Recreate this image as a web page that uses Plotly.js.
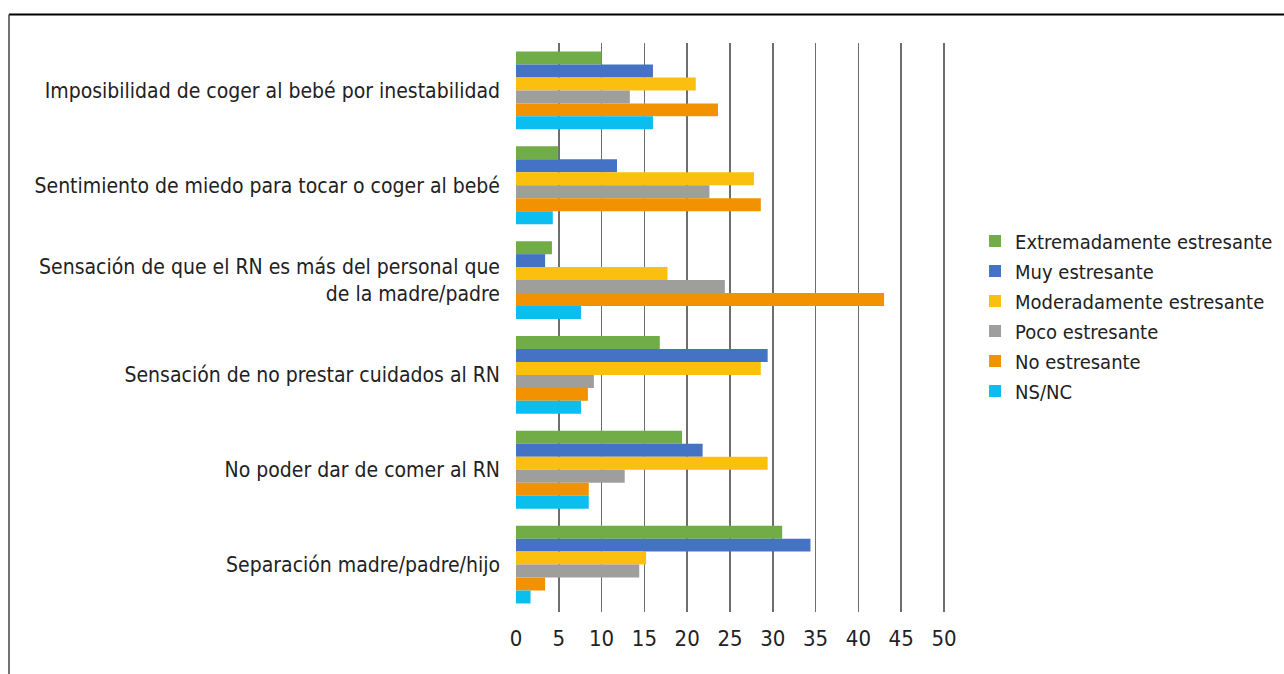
<!DOCTYPE html>
<html>
<head>
<meta charset="utf-8">
<script src="https://cdn.plot.ly/plotly-3.0.1.min.js"></script>
<style>
  html, body { margin: 0; padding: 0; background: #fff; }
  #chart { width: 1284px; height: 674px; }
</style>
</head>
<body>
<div id="chart"></div>
<script>
const categories = [
  "Imposibilidad de coger al bebé por inestabilidad",
  "Sentimiento de miedo para tocar o coger al bebé",
  "Sensación de que el RN es más del personal que<br>de la madre/padre",
  "Sensación de no prestar cuidados al RN",
  "No poder dar de comer al RN",
  "Separación madre/padre/hijo"
];
const seriesNames = [
  "Extremadamente estresante",
  "Muy estresante",
  "Moderadamente estresante",
  "Poco estresante",
  "No estresante",
  "NS/NC"
];
const extremadamente = [10.0, 4.9, 4.2, 16.8, 19.4, 31.1];
const muy            = [16.0, 11.8, 3.4, 29.4, 21.8, 34.4];
const moderadamente  = [21.0, 27.8, 17.7, 28.6, 29.4, 15.2];
const poco           = [13.3, 22.6, 24.4, 9.1, 12.7, 14.4];
const noEstresante   = [23.6, 28.6, 43.0, 8.4, 8.5, 3.4];
const nsnc           = [16.0, 4.3, 7.6, 7.6, 8.5, 1.7];
const xTicks = [0, 5, 10, 15, 20, 25, 30, 35, 40, 45, 50];

const seriesValues = [extremadamente, muy, moderadamente, poco, noEstresante, nsnc];
const colors = ["#70AD47", "#4472C4", "#FBBF0F", "#9E9E9C", "#F29200", "#0CBDF0"];

const FONT = "'DejaVu Sans Condensed', 'Liberation Sans', Arial, sans-serif";

const traces = seriesValues.map((vals, i) => ({
  type: "bar",
  orientation: "h",
  name: seriesNames[i],
  y: categories,
  x: vals,
  legendgroup: "g" + i,
  marker: { color: colors[i], line: { width: 0 } },
  hoverinfo: "x+name"
}));

const layout = {
  width: 1284,
  height: 674,
  margin: { l: 516, r: 339, t: 43, b: 62, autoexpand: false },
  paper_bgcolor: "#ffffff",
  plot_bgcolor: "#ffffff",
  font: { family: FONT, size: 21, color: "#222222" },
  barmode: "group",
  bargap: 0.18,
  bargroupgap: 0,
  showlegend: true,
  legend: {
    x: 1.07, xanchor: "left",
    y: 0.52, yanchor: "middle",
    traceorder: "grouped",
    tracegroupgap: 1,
    font: { family: FONT, size: 20, color: "#222222" },
    itemwidth: 30,
    bgcolor: "rgba(0,0,0,0)"
  },
  xaxis: {
    range: [0, 50.12],
    tickvals: xTicks,
    ticktext: xTicks.map(String),
    showgrid: true,
    gridcolor: "#6e6e6e",
    gridwidth: 1.5,
    zeroline: false,
    showline: false,
    ticks: "",
    ticklabelstandoff: 11,
    tickfont: { family: FONT, size: 22, color: "#222222" },
    fixedrange: true
  },
  yaxis: {
    autorange: "reversed",
    showgrid: false,
    zeroline: false,
    showline: false,
    ticks: "",
    ticklabelstandoff: 15,
    tickfont: { family: FONT, size: 21, color: "#222222" },
    fixedrange: true
  },
  shapes: [
    { type: "line", xref: "paper", yref: "paper",
      x0: (9 - 516) / 429, x1: (1290 - 516) / 429,
      y0: (612.5 - 14) / 570, y1: (612.5 - 14) / 570,
      line: { color: "#000000", width: 2 } },
    { type: "line", xref: "paper", yref: "paper",
      x0: (9 - 516) / 429, x1: (9 - 516) / 429,
      y0: (612.5 - 14) / 570, y1: (612.5 - 680) / 570,
      line: { color: "#444444", width: 1.5 } }
  ]
};

Plotly.newPlot("chart", traces, layout, { displayModeBar: false, staticPlot: true });
</script>
</body>
</html>
